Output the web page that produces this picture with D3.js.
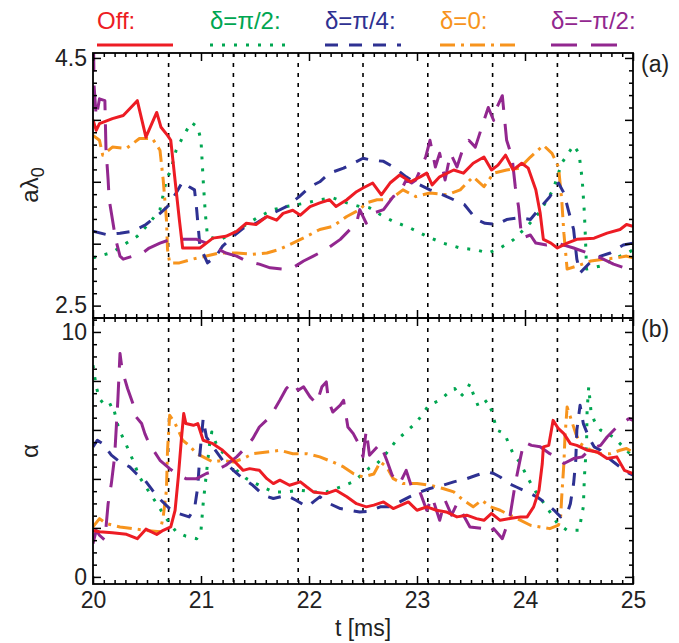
<!DOCTYPE html>
<html>
<head>
<meta charset="utf-8">
<script src="https://cdn.jsdelivr.net/npm/d3@7"></script>
<style>
  body { margin: 0; background: #fff; }
  svg { font-family: "Liberation Sans", Arial, sans-serif; }
</style>
</head>
<body>
<svg id="chart" width="679" height="643"></svg>
<script>
// time markers (vertical dotted lines)
const markTimes = [20.7, 21.3, 21.9, 22.5, 23.1, 23.7, 24.3];
const xTicks = [20, 21, 22, 23, 24, 25];

// legend entries
const seriesNames = ["Off:", "δ=π/2:", "δ=π/4:", "δ=0:", "δ=−π/2:"];

// panel (a): a*lambda_0
const offA = [[20,4.0],[20.03,3.915],[20.06,3.97],[20.18,4.01],[20.28,4.035],[20.34,4.09],[20.41,4.155],[20.49,3.86],[20.59,4.06],[20.63,3.94],[20.69,3.875],[20.72,3.835],[20.77,3.43],[20.8,3.19],[20.83,2.965],[20.99,2.965],[21.05,3.005],[21.11,3.045],[21.23,3.06],[21.33,3.1],[21.42,3.165],[21.51,3.155],[21.61,3.22],[21.7,3.19],[21.76,3.245],[21.85,3.27],[21.92,3.23],[22.01,3.3],[22.1,3.33],[22.19,3.355],[22.25,3.3],[22.35,3.355],[22.44,3.42],[22.5,3.45],[22.59,3.49],[22.67,3.395],[22.75,3.49],[22.84,3.555],[22.94,3.5],[23.03,3.54],[23.09,3.57],[23.14,3.475],[23.21,3.54],[23.34,3.595],[23.43,3.57],[23.52,3.65],[23.62,3.7],[23.69,3.595],[23.75,3.635],[23.82,3.715],[23.89,3.595],[23.97,3.65],[24.03,3.61],[24.1,3.435],[24.14,3.25],[24.17,3.035],[24.24,3.005],[24.3,2.965],[24.39,3.005],[24.48,3.035],[24.64,3.045],[24.76,3.085],[24.88,3.115],[24.94,3.155],[25,3.14]];
const pi2A = [[20,2.886],[20.18,2.93],[20.31,3.005],[20.41,3.06],[20.52,3.165],[20.62,3.275],[20.68,3.515],[20.72,3.595],[20.77,3.755],[20.83,3.86],[20.91,3.98],[20.97,3.94],[21,3.835],[21.02,3.515],[21.04,3.245],[21.06,3.06],[21.17,3.03],[21.3,3.085],[21.42,3.155],[21.54,3.22],[21.67,3.275],[21.79,3.3],[21.98,3.33],[22.1,3.355],[22.22,3.37],[22.35,3.33],[22.47,3.3],[22.56,3.29],[22.66,3.235],[22.78,3.18],[22.93,3.13],[23.09,3.06],[23.24,3.005],[23.4,2.965],[23.55,2.95],[23.66,2.925],[23.77,2.965],[23.89,3.03],[24.02,3.14],[24.14,3.26],[24.26,3.435],[24.34,3.65],[24.42,3.755],[24.45,3.795],[24.5,3.73],[24.53,3.515],[24.55,3.245],[24.56,3.035],[24.57,2.795],[24.7,2.82],[24.82,2.875],[24.95,2.925],[25,2.95]];
const pi4A = [[20,3.1],[20.12,3.075],[20.25,3.085],[20.37,3.1],[20.49,3.155],[20.62,3.245],[20.69,3.3],[20.77,3.41],[20.83,3.5],[20.89,3.46],[20.94,3.435],[20.96,3.275],[20.99,2.98],[21.06,2.845],[21.14,2.9],[21.2,2.98],[21.3,3.06],[21.39,3.125],[21.51,3.165],[21.64,3.235],[21.79,3.3],[21.91,3.38],[22.01,3.46],[22.1,3.5],[22.19,3.57],[22.32,3.61],[22.41,3.65],[22.5,3.69],[22.58,3.675],[22.69,3.665],[22.78,3.62],[22.9,3.54],[22.99,3.49],[23.12,3.435],[23.24,3.395],[23.34,3.355],[23.44,3.315],[23.55,3.195],[23.63,3.165],[23.74,3.155],[23.83,3.195],[23.95,3.21],[24.05,3.195],[24.14,3.29],[24.23,3.38],[24.31,3.49],[24.36,3.41],[24.4,3.275],[24.45,3.115],[24.48,2.875],[24.51,2.765],[24.6,2.845],[24.7,2.9],[24.79,2.925],[24.91,2.99],[25,3.005]];
const zeroA = [[20,3.875],[20.06,3.835],[20.09,3.715],[20.18,3.78],[20.31,3.77],[20.43,3.85],[20.55,3.85],[20.62,3.755],[20.65,3.515],[20.68,3.195],[20.69,2.955],[20.71,2.845],[20.8,2.845],[20.92,2.875],[21.05,2.9],[21.17,2.925],[21.33,2.925],[21.48,2.915],[21.61,2.925],[21.73,2.955],[21.85,3.005],[21.98,3.06],[22.1,3.115],[22.22,3.14],[22.35,3.22],[22.47,3.275],[22.53,3.33],[22.63,3.355],[22.75,3.355],[22.87,3.435],[22.99,3.38],[23.12,3.41],[23.28,3.395],[23.4,3.435],[23.52,3.54],[23.62,3.46],[23.71,3.57],[23.83,3.595],[23.95,3.61],[24.05,3.7],[24.17,3.795],[24.25,3.73],[24.31,3.62],[24.34,3.355],[24.36,3.085],[24.39,2.795],[24.48,2.82],[24.61,2.86],[24.73,2.875],[24.85,2.885],[24.94,2.9],[25,2.885]];
const mpi2A = [[20.005,4.6],[20.01,4.275],[20.03,4.02],[20.06,4.17],[20.11,4.155],[20.12,3.77],[20.14,3.515],[20.15,3.355],[20.18,3.195],[20.21,3.035],[20.25,2.9],[20.28,2.875],[20.37,2.9],[20.46,2.925],[20.52,2.965],[20.62,3.005],[20.72,3.035],[20.83,3.035],[20.96,3.035],[21.05,3.005],[21.14,2.965],[21.23,2.925],[21.33,2.9],[21.42,2.86],[21.54,2.835],[21.64,2.805],[21.76,2.795],[21.85,2.805],[21.95,2.86],[22.04,2.9],[22.16,2.955],[22.29,3.035],[22.38,3.115],[22.44,3.165],[22.47,3.275],[22.53,3.165],[22.59,3.245],[22.69,3.275],[22.78,3.38],[22.84,3.41],[22.9,3.515],[22.95,3.49],[22.99,3.515],[23.08,3.7],[23.12,3.835],[23.17,3.62],[23.21,3.73],[23.26,3.515],[23.31,3.73],[23.37,3.62],[23.43,3.78],[23.48,3.835],[23.54,3.78],[23.62,3.995],[23.66,4.1],[23.71,3.995],[23.74,4.1],[23.79,4.195],[23.83,3.835],[23.88,3.7],[23.91,3.46],[23.94,3.3],[23.97,3.045],[24.05,3.07],[24.1,3.005],[24.2,2.99],[24.3,3.005],[24.45,2.965],[24.58,2.925],[24.7,2.885],[24.82,2.835],[24.92,2.805],[25,2.805]];

// panel (b): alpha
const offB = [[20,1.9],[20.06,1.84],[20.18,1.8],[20.31,1.74],[20.41,1.56],[20.49,1.95],[20.59,1.73],[20.65,1.9],[20.72,2.04],[20.76,2.72],[20.79,4.08],[20.82,5.71],[20.84,6.67],[20.86,6.26],[20.93,6.19],[20.97,6.26],[21.02,5.58],[21.11,5.44],[21.2,5.17],[21.3,4.76],[21.39,4.35],[21.45,4.42],[21.54,4.35],[21.61,4.01],[21.67,3.81],[21.73,3.95],[21.82,3.74],[21.92,3.88],[21.98,3.67],[22.04,3.47],[22.16,3.4],[22.25,3.54],[22.35,3.27],[22.44,2.99],[22.53,2.86],[22.6,2.93],[22.69,3.06],[22.78,2.79],[22.92,3.06],[23,2.72],[23.09,2.86],[23.18,2.72],[23.27,2.65],[23.37,2.45],[23.46,2.52],[23.55,2.38],[23.62,2.31],[23.69,2.59],[23.77,2.31],[23.86,2.38],[23.96,2.45],[24.02,2.45],[24.08,2.86],[24.13,3.54],[24.16,4.63],[24.17,5.31],[24.22,5.37],[24.26,6.39],[24.31,6.05],[24.36,5.85],[24.42,5.44],[24.48,5.37],[24.58,5.17],[24.67,5.1],[24.76,4.83],[24.85,4.9],[24.92,4.35],[25,4.22]];
const pi2B = [[20,8.64],[20.03,7.76],[20.06,7.28],[20.12,6.94],[20.18,7.07],[20.23,6.19],[20.26,5.85],[20.31,5.37],[20.37,4.76],[20.43,4.08],[20.49,3.67],[20.59,2.99],[20.68,2.38],[20.77,1.84],[20.86,1.66],[20.96,1.56],[21,1.9],[21.02,2.99],[21.05,4.22],[21.08,5.44],[21.1,5.92],[21.14,5.44],[21.23,4.9],[21.33,4.35],[21.42,4.01],[21.54,3.74],[21.67,3.47],[21.79,3.47],[21.92,3.54],[22.04,3.47],[22.16,3.47],[22.29,3.67],[22.41,3.88],[22.5,4.22],[22.56,4.45],[22.63,4.63],[22.69,4.9],[22.75,5.24],[22.81,5.58],[22.9,5.92],[23,6.33],[23.11,7.01],[23.21,7.21],[23.3,7.55],[23.35,7.69],[23.4,7.35],[23.46,7.62],[23.49,7.89],[23.52,7.48],[23.57,6.94],[23.65,7.21],[23.69,6.8],[23.74,5.99],[23.81,5.85],[23.85,5.44],[23.89,5.03],[23.96,4.63],[24.02,4.08],[24.11,3.4],[24.2,2.86],[24.3,2.18],[24.39,1.9],[24.5,1.9],[24.54,2.86],[24.55,4.08],[24.57,5.44],[24.575,6.8],[24.59,7.76],[24.61,6.8],[24.64,6.39],[24.7,5.99],[24.76,5.85],[24.82,5.71],[24.88,5.44],[24.94,5.17],[25,4.9]];
const pi4B = [[20,5.31],[20.04,5.58],[20.09,5.44],[20.17,4.97],[20.25,4.69],[20.34,4.49],[20.4,4.22],[20.48,3.95],[20.55,3.54],[20.63,3.13],[20.71,2.79],[20.79,2.59],[20.89,2.45],[20.94,2.79],[20.97,3.67],[20.99,5.03],[21.02,6.46],[21.05,5.71],[21.11,5.31],[21.2,4.76],[21.3,4.35],[21.39,4.01],[21.48,3.74],[21.58,3.33],[21.67,3.2],[21.79,3.33],[21.88,3.13],[21.98,2.86],[22.04,3.06],[22.1,3.27],[22.19,2.99],[22.29,2.79],[22.38,2.72],[22.47,2.65],[22.56,2.68],[22.66,2.86],[22.75,2.86],[22.84,3.06],[22.93,3.27],[23.03,3.47],[23.12,3.61],[23.24,3.74],[23.34,3.88],[23.46,4.01],[23.55,4.15],[23.65,4.29],[23.71,4.22],[23.77,4.08],[23.85,3.81],[23.92,3.67],[24.02,3.47],[24.11,3.27],[24.2,2.99],[24.27,2.72],[24.33,2.45],[24.39,2.59],[24.42,2.99],[24.45,3.81],[24.47,4.76],[24.48,5.99],[24.51,7.01],[24.54,6.26],[24.59,5.71],[24.64,5.31],[24.7,5.17],[24.76,4.9],[24.82,4.69],[24.88,4.49],[24.94,4.29],[25,4.15]];
const zeroB = [[20,2.04],[20.06,2.38],[20.12,2.18],[20.25,2.04],[20.37,1.97],[20.49,1.9],[20.62,1.84],[20.65,2.45],[20.68,3.54],[20.69,5.17],[20.71,6.6],[20.76,6.26],[20.79,5.99],[20.83,5.58],[20.89,5.37],[20.96,5.03],[21.02,4.9],[21.11,4.69],[21.2,4.76],[21.3,4.69],[21.39,4.83],[21.48,5.03],[21.61,5.1],[21.73,5.17],[21.85,5.03],[21.98,5.03],[22.1,4.9],[22.22,4.69],[22.32,4.49],[22.41,4.22],[22.5,4.08],[22.6,4.2],[22.66,4.69],[22.72,4.49],[22.78,4.01],[22.87,3.81],[23,3.81],[23.12,3.74],[23.24,3.61],[23.34,3.47],[23.43,3.13],[23.52,2.86],[23.6,3.13],[23.68,2.86],[23.77,2.72],[23.86,2.52],[23.96,2.31],[24.05,2.11],[24.14,2.04],[24.23,1.97],[24.31,2.11],[24.33,2.45],[24.34,3.27],[24.36,4.63],[24.37,5.71],[24.39,6.94],[24.42,6.53],[24.47,5.85],[24.51,5.44],[24.61,5.17],[24.7,5.03],[24.79,5.03],[24.88,5.17],[24.94,5.24],[25,5.1]];
const mpi2B = [[20,1.36],[20.03,1.9],[20.06,1.7],[20.11,1.5],[20.14,2.99],[20.17,3.81],[20.2,4.9],[20.23,7.21],[20.25,9.12],[20.27,8.44],[20.32,7.69],[20.37,7.07],[20.4,6.53],[20.45,6.26],[20.48,5.85],[20.52,5.44],[20.62,4.76],[20.71,4.42],[20.77,4.22],[20.86,4.01],[20.96,4.01],[21.05,4.22],[21.14,4.35],[21.23,4.56],[21.33,4.9],[21.42,5.31],[21.48,5.65],[21.54,6.12],[21.64,6.53],[21.73,7.21],[21.79,7.69],[21.85,7.96],[21.9,7.62],[21.95,7.76],[22.01,7.35],[22.07,7.07],[22.12,7.76],[22.16,7.96],[22.18,7.21],[22.22,6.73],[22.29,7.01],[22.32,7.21],[22.36,6.12],[22.41,5.85],[22.46,5.44],[22.5,4.9],[22.53,5.99],[22.56,4.97],[22.66,5.44],[22.72,4.76],[22.77,4.15],[22.84,3.81],[22.9,4.35],[22.95,3.67],[23.01,3.67],[23.09,2.72],[23.14,3.27],[23.21,2.31],[23.26,3.13],[23.32,2.52],[23.37,2.99],[23.43,2.52],[23.49,2.04],[23.62,1.97],[23.66,1.77],[23.71,1.97],[23.79,1.56],[23.86,2.45],[23.91,3.81],[23.96,4.9],[23.99,5.51],[24.06,5.37],[24.14,5.31],[24.23,5.03],[24.29,4.9],[24.36,4.63],[24.45,4.83],[24.53,4.9],[24.61,5.24],[24.7,5.37],[24.76,5.71],[24.85,6.12],[24.92,6.33],[24.96,6.46],[25,6.39]];

/* layout */
const svg = d3.select("#chart");
const left = 93, right = 633;
const panels = [
    {top: 53, bottom: 318, domain: [2.4, 4.54], majors: [2.5, 3.0, 3.5, 4.0, 4.5],
     minorStep: 0.1, minorFrom: 2.4, labels: [2.5, 4.5], fmt: d3.format(".1f"), tag: "(a)",
     series: [offA, pi2A, pi4A, zeroA, mpi2A]},
    {top: 318, bottom: 584, domain: [-0.29, 10.57], majors: [0, 2, 4, 6, 8, 10],
     minorStep: 0.5, minorFrom: 0, labels: [0, 10], fmt: d3.format("d"), tag: "(b)",
     series: [offB, pi2B, pi4B, zeroB, mpi2B]}
];

const colors = ["#ed1c24", "#00a651", "#2e3192", "#f7941d", "#92278f"];
const dashes = [null, "3,9", "13,11", "15,6,3,6", "26,14"];
const drawOrder = [1, 3, 2, 4, 0];

const x = d3.scaleLinear().domain([20, 25]).range([left, right]);
const xMinor = d3.range(20, 25.001, 0.1).map(d => Math.round(d * 10) / 10);

panels.forEach((p, pi) => {
    const y = d3.scaleLinear().domain(p.domain).range([p.bottom, p.top]);
    const g = svg.append("g");
    const clipId = "clip" + pi;
    svg.append("clipPath").attr("id", clipId)
        .append("rect").attr("x", left).attr("y", p.top)
        .attr("width", right - left).attr("height", p.bottom - p.top);

    // dotted time markers
    g.selectAll("line.mark").data(markTimes).enter()
        .append("line").attr("class", "mark")
        .attr("x1", d => x(d)).attr("x2", d => x(d))
        .attr("y1", p.top).attr("y2", p.bottom)
        .attr("stroke", "#000").attr("stroke-width", 1.6)
        .attr("stroke-dasharray", "4,6");

    // series
    const line = d3.line().x(d => x(d[0])).y(d => y(d[1]));
    const lines = g.append("g").attr("clip-path", `url(#${clipId})`);
    drawOrder.forEach(si => {
        lines.append("path")
            .datum(p.series[si])
            .attr("d", line)
            .attr("fill", "none")
            .attr("stroke", colors[si])
            .attr("stroke-width", 3)
            .attr("stroke-linejoin", "round")
            .attr("stroke-dasharray", dashes[si]);
    });

    // frame
    g.append("rect").attr("x", left).attr("y", p.top)
        .attr("width", right - left).attr("height", p.bottom - p.top)
        .attr("fill", "none").attr("stroke", "#000").attr("stroke-width", 1.8);

    const minors = d3.range(p.minorFrom, p.domain[1], p.minorStep)
        .map(d => Math.round(d * 100) / 100).filter(d => !p.majors.includes(d));

    // left / right axes
    g.append("g").attr("transform", `translate(${left},0)`)
        .call(d3.axisLeft(y).tickValues(minors).tickSize(-4).tickSizeOuter(0).tickFormat(""));
    g.append("g").attr("transform", `translate(${left},0)`)
        .call(d3.axisLeft(y).tickValues(p.majors).tickSize(-8).tickSizeOuter(0).tickPadding(6)
            .tickFormat(d => p.labels.includes(d) ? p.fmt(d) : ""));
    g.append("g").attr("transform", `translate(${right},0)`)
        .call(d3.axisRight(y).tickValues(minors).tickSize(-4).tickSizeOuter(0).tickFormat(""));
    g.append("g").attr("transform", `translate(${right},0)`)
        .call(d3.axisRight(y).tickValues(p.majors).tickSize(-8).tickSizeOuter(0).tickFormat(""));

    // top / bottom axes
    const xm = xMinor.filter(d => !xTicks.includes(d));
    g.append("g").attr("transform", `translate(0,${p.top})`)
        .call(d3.axisTop(x).tickValues(xm).tickSize(-4).tickSizeOuter(0).tickFormat(""));
    g.append("g").attr("transform", `translate(0,${p.top})`)
        .call(d3.axisTop(x).tickValues(xTicks).tickSize(-8).tickSizeOuter(0).tickFormat(""));
    g.append("g").attr("transform", `translate(0,${p.bottom})`)
        .call(d3.axisBottom(x).tickValues(xm).tickSize(-4).tickSizeOuter(0).tickFormat(""));
    g.append("g").attr("transform", `translate(0,${p.bottom})`)
        .call(d3.axisBottom(x).tickValues(xTicks).tickSize(-8).tickSizeOuter(0).tickPadding(8)
            .tickFormat(pi === 1 ? d3.format("d") : ""));

    g.append("text").attr("x", 641).attr("y", p.top + 19)
        .attr("font-size", 23).attr("fill", "#222").text(p.tag);
});

svg.selectAll(".domain").remove();
svg.selectAll(".tick line").attr("stroke", "#000").attr("stroke-width", 1.5);
svg.selectAll(".tick text").attr("font-size", 23).attr("fill", "#222")
    .attr("font-family", "Liberation Sans, Arial, sans-serif");

// axis titles
const ya = svg.append("text").attr("transform", "translate(38,185) rotate(-90)")
    .attr("text-anchor", "middle").attr("font-size", 24).attr("fill", "#222");
ya.append("tspan").text("aλ");
ya.append("tspan").attr("font-size", 18).attr("dy", 6).text("0");

svg.append("text").attr("transform", "translate(38,451) rotate(-90)")
    .attr("text-anchor", "middle").attr("font-size", 24).attr("fill", "#222").text("α");

svg.append("text").attr("x", (left + right) / 2).attr("y", 636)
    .attr("text-anchor", "middle").attr("font-size", 23).attr("fill", "#222").text("t [ms]");

// legend
const legendX = [97, 210, 325, 440, 551];
const legend = svg.append("g");
seriesNames.forEach((name, i) => {
    legend.append("text").attr("x", legendX[i]).attr("y", 29)
        .attr("font-size", 24).attr("fill", colors[i]).text(name);
    legend.append("line")
        .attr("x1", legendX[i]).attr("x2", legendX[i] + 76)
        .attr("y1", 45).attr("y2", 45)
        .attr("stroke", colors[i]).attr("stroke-width", 3)
        .attr("stroke-dasharray", dashes[i]);
});
</script>
</body>
</html>
